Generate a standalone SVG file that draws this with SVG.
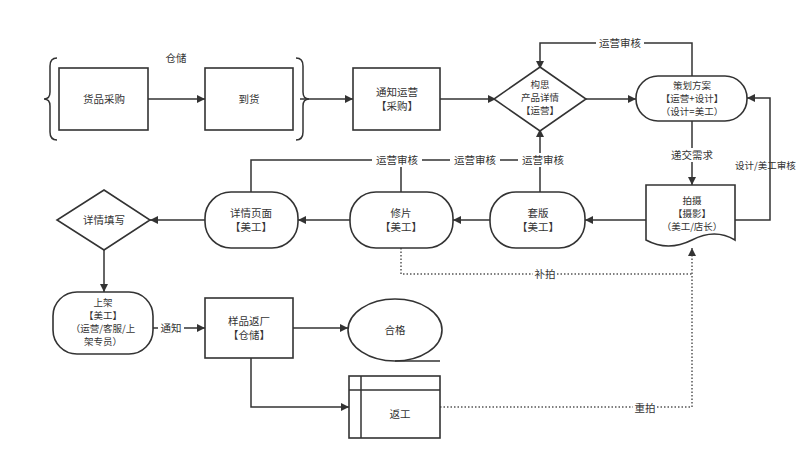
<svg xmlns="http://www.w3.org/2000/svg" width="800" height="467" viewBox="0 0 800 467">
<style>
.s{fill:#fff;stroke:#333;stroke-width:1.6}
.c{fill:none;stroke:#333;stroke-width:1.5}
.d{fill:none;stroke:#555;stroke-width:1.5;stroke-dasharray:1.5 2}
text{font-family:"Noto Sans CJK SC","Liberation Sans",sans-serif;font-size:10.5px;fill:#333;text-anchor:middle}
.sm{font-size:9.5px}
.lb{fill:#fff;stroke:none}
</style>
<defs>
<marker id="a" viewBox="0 0 10 10" refX="10" refY="5" markerWidth="8" markerHeight="8" orient="auto" markerUnits="userSpaceOnUse"><path d="M0,0L10,5L0,10z" fill="#333"/></marker>
</defs>
<rect width="800" height="467" fill="#fff"/>
<g id="connectors">
<path class="c" d="M148,99H205" marker-end="url(#a)"/>
<path class="c" d="M300,99H353" marker-end="url(#a)"/>
<path class="c" d="M440,99H496" marker-end="url(#a)"/>
<path class="c" d="M586,99H636" marker-end="url(#a)"/>
<path class="c" d="M692,76V43H540V69" marker-end="url(#a)"/>
<path class="c" d="M692,121V185" marker-end="url(#a)"/>
<path class="c" d="M735,220H770V98H747" marker-end="url(#a)"/>
<path class="c" d="M646,220H585" marker-end="url(#a)"/>
<path class="c" d="M490,220H453" marker-end="url(#a)"/>
<path class="c" d="M350,220H298" marker-end="url(#a)"/>
<path class="c" d="M205,220H150" marker-end="url(#a)"/>
<path class="c" d="M251,192V160H540"/>
<path class="c" d="M401,192V160"/>
<path class="c" d="M540,192V129" marker-end="url(#a)"/>
<path class="d" d="M401,248V274H692"/>
<path class="d" d="M440,407H692V248" marker-end="url(#a)"/>
<path class="c" d="M104,250V292" marker-end="url(#a)"/>
<path class="c" d="M153,328H205" marker-end="url(#a)"/>
<path class="c" d="M293,328H348" marker-end="url(#a)"/>
<path class="c" d="M251,358V407H349" marker-end="url(#a)"/>
<rect class="lb" x="596" y="36" width="48" height="14"/><text x="620" y="47">运营审核</text>
<rect class="lb" x="666" y="148" width="52" height="14"/><text x="692" y="159">递交需求</text>
<text x="735" y="169" class="sm" style="text-anchor:start">设计/美工审核</text>
<rect class="lb" x="372" y="153" width="50" height="14"/><text x="397" y="164">运营审核</text>
<rect class="lb" x="450" y="153" width="50" height="14"/><text x="475" y="164">运营审核</text>
<rect class="lb" x="518" y="153" width="50" height="14"/><text x="543" y="164">运营审核</text>
<rect class="lb" x="533" y="267" width="24" height="14"/><text x="545" y="278">补拍</text>
<rect class="lb" x="633" y="400" width="24" height="14"/><text x="645" y="412">重拍</text>
<rect class="lb" x="158" y="321" width="26" height="14"/><text x="171" y="332">通知</text>
<text x="176" y="62">仓储</text>
</g>
<g id="braces">
<path class="c" d="M57,58Q50,58 50,66V92Q50,99 44,99Q50,99 50,106V132Q50,140 57,140"/>
<path class="c" d="M296,58Q303,58 303,66V92Q303,99 309,99Q303,99 303,106V132Q303,140 296,140"/>
</g>
<g id="n1"><rect class="s" x="59" y="68" width="89" height="62"/><text x="104" y="103">货品采购</text></g>
<g id="n2"><rect class="s" x="205" y="68" width="88" height="62"/><text x="249" y="103">到货</text></g>
<g id="n3"><rect class="s" x="353" y="68" width="87" height="62"/><text x="397" y="96">通知运营</text><text x="397" y="110">【采购】</text></g>
<g id="n4"><path class="s" d="M540,67L586,99L540,131L494,99z"/><text class="sm" x="540" y="88">构思</text><text class="sm" x="540" y="101">产品详情</text><text class="sm" x="540" y="114">【运营】</text></g>
<g id="n5"><rect class="s" x="636" y="76" width="111" height="45" rx="22"/><text class="sm" x="692" y="89">策划方案</text><text class="sm" x="692" y="102">【运营+设计】</text><text class="sm" x="692" y="115">（设计=美工）</text></g>
<g id="n6"><path class="s" d="M646,185H735V240Q715,228 692,240Q668,252 646,240z"/><text class="sm" x="692" y="204">拍摄</text><text class="sm" x="692" y="217">【摄影】</text><text class="sm" x="692" y="230">（美工/店长）</text></g>
<g id="n7"><rect class="s" x="490" y="192" width="95" height="56" rx="26"/><text x="538" y="217">套版</text><text x="538" y="231">【美工】</text></g>
<g id="n8"><rect class="s" x="350" y="192" width="103" height="56" rx="26"/><text x="401" y="217">修片</text><text x="401" y="231">【美工】</text></g>
<g id="n9"><rect class="s" x="205" y="192" width="93" height="56" rx="26"/><text x="251" y="217">详情页面</text><text x="251" y="231">【美工】</text></g>
<g id="n10"><path class="s" d="M104,190L150,220L104,250L57,220z"/><text x="104" y="224">详情填写</text></g>
<g id="n11"><rect class="s" x="53" y="292" width="100" height="62" rx="24"/><text class="sm" x="103" y="306">上架</text><text class="sm" x="103" y="319">【美工】</text><text class="sm" x="103" y="332">（运营/客服/上</text><text class="sm" x="103" y="345">架专员）</text></g>
<g id="n12"><rect class="s" x="205" y="298" width="88" height="60"/><text x="249" y="325">样品返厂</text><text x="249" y="339">【仓储】</text></g>
<g id="n13"><ellipse class="s" cx="395" cy="330" rx="47" ry="31"/><path class="c" d="M395,361H440"/><text x="395" y="334">合格</text></g>
<g id="n14"><rect class="s" x="349" y="376" width="91" height="62"/><path class="c" d="M361,376V438M349,390H440"/><text x="400" y="418">返工</text></g>
</svg>
